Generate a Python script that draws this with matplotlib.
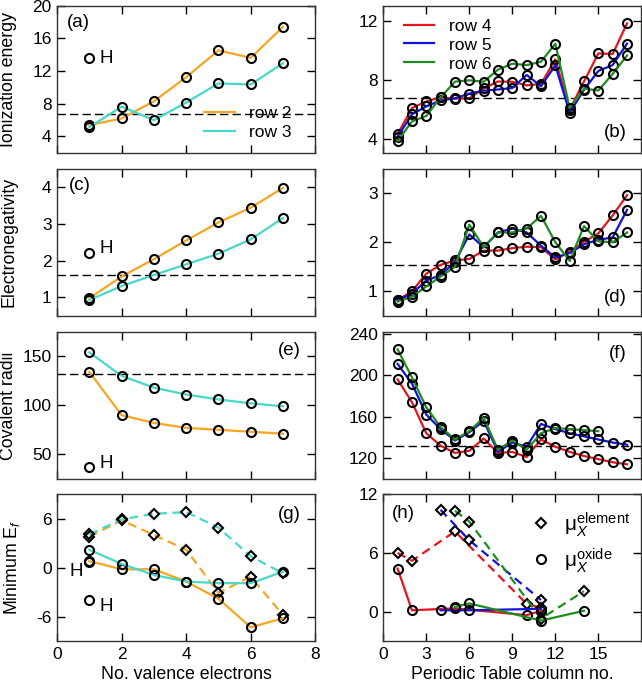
import matplotlib
matplotlib.use("Agg")
import matplotlib.pyplot as plt
from matplotlib.lines import Line2D

plt.rcParams["font.family"] = ["Liberation Sans", "DejaVu Sans"]
plt.rcParams["font.size"] = 12.5
plt.rcParams["axes.unicode_minus"] = False
plt.rcParams["mathtext.fontset"] = "custom"
plt.rcParams["mathtext.rm"] = "Liberation Sans"
plt.rcParams["mathtext.it"] = "Liberation Sans:italic"

# ---- data: rows 2/3 vs. valence electrons ----
valence = [1, 2, 3, 4, 5, 6, 7]
ie_row2 = [5.39, 6.2, 8.30, 11.26, 14.53, 13.62, 17.42]
ie_row3 = [5.14, 7.65, 5.99, 8.15, 10.49, 10.36, 12.97]
en_row2 = [0.98, 1.57, 2.04, 2.55, 3.04, 3.44, 3.98]
en_row3 = [0.93, 1.31, 1.61, 1.90, 2.19, 2.58, 3.16]
cr_row2 = [134, 90, 82, 77, 75, 73, 71]
cr_row3 = [154, 130, 118, 111, 106, 102, 99]
ef_elem_row2 = [3.8, 5.8, 4.0, 2.2, -3.1, -1.1, -5.8]
ef_elem_row3 = [4.1, 5.9, 6.6, 6.8, 4.9, 1.4, -0.7]
ef_ox_row2 = [0.8, -0.2, -0.2, -1.7, -3.8, -7.3, -6.2]
ef_ox_row3 = [2.2, 0.45, -0.9, -1.7, -1.9, -1.9, -0.5]
h_ie, h_en, h_cr = 13.6, 2.2, 37
h_ef = [0.7, -4.0]

# ---- data: rows 4/5/6 vs. periodic table column ----
columns = list(range(1, 18))
ie_row4 = [4.34, 6.11, 6.56, 6.83, 6.75, 6.77, 7.43, 7.90, 7.88, 7.64, 7.73, 9.39, 6.00, 7.90, 9.79, 9.75, 11.81]
ie_row5 = [4.18, 5.69, 6.22, 6.63, 6.76, 7.09, 7.28, 7.36, 7.46, 8.34, 7.58, 8.99, 5.79, 7.34, 8.61, 9.01, 10.45]
ie_row6 = [3.89, 5.21, 5.58, 6.83, 7.89, 7.98, 7.88, 8.70, 9.10, 9.00, 9.23, 10.44, 6.11, 7.42, 7.29, 8.41, 9.65]
en_row4 = [0.82, 1.00, 1.36, 1.54, 1.63, 1.66, 1.83, 1.83, 1.88, 1.91, 1.90, 1.65, 1.81, 2.01, 2.18, 2.55, 2.96]
en_row5 = [0.82, 0.95, 1.22, 1.33, 1.60, 2.16, 1.90, 2.20, 2.28, 2.20, 1.93, 1.69, 1.78, 1.96, 2.05, 2.10, 2.66]
en_row6 = [0.79, 0.89, 1.10, 1.30, 1.50, 2.36, 1.90, 2.20, 2.20, 2.28, 2.54, 2.00, 1.62, 2.33, 2.02, 2.00, 2.20]
cr_row4 = [196, 174, 144, 132, 125, 127, 139, 125, 126, 121, 138, 131, 126, 122, 119, 116, 114]
cr_row5 = [211, 192, 162, 148, 137, 145, 156, 126, 135, 131, 153, 148, 144, 141, 138, 135, 133]
cr_row6 = [225, 198, 169, 150, 138, 146, 159, 128, 137, 128, 144, 149, 148, 147, 146]

mu_cols_row4 = [1, 2, 5, 10, 11]
mu_elem_row4 = [6.0, 5.2, 8.2, 0.8, 0.4]
mu_ox_row4 = [4.4, 0.15, 0.35, -0.35, 0.1]
mu_cols_row5 = [4, 6, 11]
mu_elem_row5 = [10.4, 7.3, 1.2]
mu_ox_row5 = [0.15, 0.15, 0.3]
mu_cols_row6 = [5, 6, 11, 14]
mu_elem_row6 = [10.3, 9.2, -0.7, 2.1]
mu_ox_row6 = [0.5, 0.85, -0.9, 0.1]

# reference (dashed) levels
ref_ie, ref_en_left, ref_en_right, ref_cr = 6.8, 1.62, 1.54, 132

ORANGE = "#F5A623"
CYAN = "#48D8C8"
RED = "#E8141C"
BLUE = "#1212E0"
GREEN = "#1E8C1E"
DASH = (0, (4, 2.5))
PANEL_FS = 13.5
YLAB_FS = 12.8
XLAB_FS = 12.8

fig = plt.figure(figsize=(6.42, 6.85), dpi=100)

left_x, right_x, width = 0.089, 0.597, 0.402
bottoms = [0.777, 0.539, 0.301, 0.064]
height = 0.2146


def style(ax, xlim, xticks, ylim, yticks, bottom_row):
    ax.set_xlim(*xlim)
    ax.set_ylim(*ylim)
    ax.set_xticks(xticks)
    ax.set_yticks(yticks)
    ax.tick_params(direction="in", top=True, right=True, length=5.5, width=1, pad=4)
    for s in ax.spines.values():
        s.set_linewidth(1.0)
        s.set_color("#333333")
    if not bottom_row:
        ax.set_xticklabels([])


def line(ax, x, y, color, ls="-", marker="o", ms=6.5):
    ax.plot(x, y, color=color, ls=ls, lw=1.6, marker=marker, ms=ms,
            mfc="none", mec="k", mew=1.5)


def hline(ax, y):
    ax.axhline(y, color="k", lw=1.0, ls=(0, (6, 3)))


def ylab(ax, text, xpos=-0.155):
    ax.set_ylabel(text, fontsize=YLAB_FS)
    ax.yaxis.set_label_coords(xpos, 0.5)


def panel(ax, label, x, y):
    ax.text(x, y, label, transform=ax.transAxes, ha="center", va="center", fontsize=PANEL_FS)


axes_left = [fig.add_axes([left_x, b, width, height]) for b in bottoms]
axes_right = [fig.add_axes([right_x, b, width, height]) for b in bottoms]

# (a)
ax = axes_left[0]
hline(ax, ref_ie)
line(ax, valence, ie_row2, ORANGE)
line(ax, valence, ie_row3, CYAN)
ax.plot([1], [h_ie], "o", ms=6.5, mfc="none", mec="k", mew=1.5)
ax.text(1.3, h_ie, "H", fontsize=13.5, va="center", ha="left")
style(ax, (0, 8), [0, 2, 4, 6, 8], (2, 20), [4, 8, 12, 16, 20], False)
ylab(ax, "Ionization energy")
ax.legend(handles=[Line2D([], [], color=ORANGE, lw=1.6, label="row 2"),
                   Line2D([], [], color=CYAN, lw=1.6, label="row 3")],
          loc="lower right", bbox_to_anchor=(0.97, -0.02), frameon=False,
          handlelength=1.75, handletextpad=0.85, labelspacing=0.2, fontsize=12.5)
panel(ax, "(a)", 0.081, 0.884)

# (c)
ax = axes_left[1]
hline(ax, ref_en_left)
line(ax, valence, en_row2, ORANGE)
line(ax, valence, en_row3, CYAN)
ax.plot([1], [h_en], "o", ms=6.5, mfc="none", mec="k", mew=1.5)
ax.text(1.3, h_en + 0.12, "H", fontsize=13.5, va="center", ha="left")
style(ax, (0, 8), [0, 2, 4, 6, 8], (0.5, 4.5), [1, 2, 3, 4], False)
ylab(ax, "Electronegativity")
panel(ax, "(c)", 0.089, 0.884)

# (e)
ax = axes_left[2]
hline(ax, ref_cr)
line(ax, valence, cr_row2, ORANGE)
line(ax, valence, cr_row3, CYAN)
ax.plot([1], [h_cr], "o", ms=6.5, mfc="none", mec="k", mew=1.5)
ax.text(1.3, h_cr + 4, "H", fontsize=13.5, va="center", ha="left")
style(ax, (0, 8), [0, 2, 4, 6, 8], (25, 175), [50, 100, 150], False)
ylab(ax, "Covalent radii")
panel(ax, "(e)", 0.90, 0.87)

# (g)
ax = axes_left[3]
line(ax, valence, ef_elem_row2, ORANGE, ls=DASH, marker="D", ms=5)
line(ax, valence, ef_elem_row3, CYAN, ls=DASH, marker="D", ms=5)
line(ax, valence, ef_ox_row2, ORANGE)
line(ax, valence, ef_ox_row3, CYAN)
ax.plot([1, 1], h_ef, "o", ms=6.5, mfc="none", mec="k", mew=1.5, ls="none")
ax.text(0.6, h_ef[0] - 1.2, "H", fontsize=13.5, va="center", ha="center")
ax.text(1.3, h_ef[1] - 0.8, "H", fontsize=13.5, va="center", ha="left")
style(ax, (0, 8), [0, 2, 4, 6, 8], (-9, 9), [-6, 0, 6], True)
ylab(ax, "Minimum E$_f$", xpos=-0.135)
ax.set_xlabel("No. valence electrons", fontsize=XLAB_FS, labelpad=3)
panel(ax, "(g)", 0.90, 0.864)

# (b)
ax = axes_right[0]
hline(ax, ref_ie)
line(ax, columns, ie_row4, RED)
line(ax, columns, ie_row5, BLUE)
line(ax, columns, ie_row6, GREEN)
style(ax, (0, 18), [0, 3, 6, 9, 12, 15], (3.1, 13), [4, 8, 12], False)
ax.legend(handles=[Line2D([], [], color=RED, lw=1.6, label="row 4"),
                   Line2D([], [], color=BLUE, lw=1.6, label="row 5"),
                   Line2D([], [], color=GREEN, lw=1.6, label="row 6")],
          loc="upper left", bbox_to_anchor=(0.02, 1.02), frameon=False,
          handlelength=1.75, handletextpad=0.85, labelspacing=0.22, fontsize=12.5)
panel(ax, "(b)", 0.90, 0.136)

# (d)
ax = axes_right[1]
hline(ax, ref_en_right)
line(ax, columns, en_row4, RED)
line(ax, columns, en_row5, BLUE)
line(ax, columns, en_row6, GREEN)
style(ax, (0, 18), [0, 3, 6, 9, 12, 15], (0.5, 3.5), [1, 2, 3], False)
panel(ax, "(d)", 0.90, 0.122)

# (f)
ax = axes_right[2]
hline(ax, ref_cr)
line(ax, columns, cr_row4, RED)
line(ax, columns, cr_row5, BLUE)
line(ax, columns[:len(cr_row6)], cr_row6, GREEN)
style(ax, (0, 18), [0, 3, 6, 9, 12, 15], (100, 242), [120, 160, 200, 240], False)
panel(ax, "(f)", 0.907, 0.85)

# (h)
ax = axes_right[3]
line(ax, mu_cols_row4, mu_elem_row4, RED, ls=DASH, marker="D", ms=5)
line(ax, mu_cols_row5, mu_elem_row5, BLUE, ls=DASH, marker="D", ms=5)
line(ax, mu_cols_row6, mu_elem_row6, GREEN, ls=DASH, marker="D", ms=5)
line(ax, mu_cols_row4, mu_ox_row4, RED)
line(ax, mu_cols_row5, mu_ox_row5, BLUE)
line(ax, mu_cols_row6, mu_ox_row6, GREEN)
style(ax, (0, 18), [0, 3, 6, 9, 12, 15], (-3, 12), [0, 6, 12], True)
ax.set_xlabel("Periodic Table column no.", fontsize=XLAB_FS, labelpad=3)
ax.legend(handles=[Line2D([], [], ls="none", marker="D", ms=5, mfc="none", mec="k", mew=1.5,
                          label="μ$_X^{\\mathrm{element}}$"),
                   Line2D([], [], ls="none", marker="o", ms=6.5, mfc="none", mec="k", mew=1.5,
                          label="μ$_X^{\\mathrm{oxide}}$")],
          loc="upper left", bbox_to_anchor=(0.50, 1.02), frameon=False, handlelength=1.0,
          handletextpad=0.6, labelspacing=0.35, fontsize=15)
panel(ax, "(h)", 0.078, 0.87)

fig.savefig("out.png", dpi=100)
